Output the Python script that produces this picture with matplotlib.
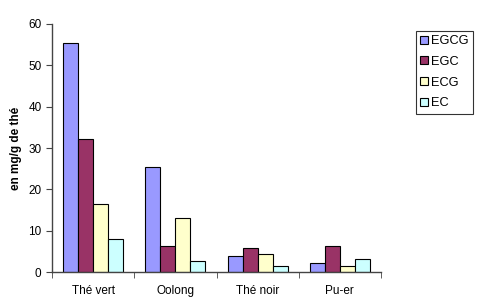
import numpy as np
import matplotlib
matplotlib.use('Agg')
import matplotlib.pyplot as plt

plt.rcParams['font.family'] = ['Liberation Sans', 'DejaVu Sans']

# données (mg/g de thé)
categories = ['Thé vert', 'Oolong', 'Thé noir', 'Pu-er']
series = ['EGCG', 'EGC', 'ECG', 'EC']
egcg = [55.5, 25.3, 3.8, 2.2]
egc = [32.2, 6.2, 5.7, 6.2]
ecg = [16.5, 13.1, 4.4, 1.5]
ec = [8.1, 2.6, 1.5, 3.2]
colors = ['#9999FF', '#993366', '#FFFFCC', '#CCFFFF']

values = [egcg, egc, ecg, ec]

fig = plt.figure(figsize=(5, 3.01), dpi=100)
ax = fig.add_axes([0.104, 0.0963, 0.658, 0.824])

x = np.arange(len(categories))
w = 0.183
for i, (name, vals, col) in enumerate(zip(series, values, colors)):
    ax.bar(x + (i - 1.5) * w, vals, width=w, color=col, edgecolor='black',
           linewidth=0.8, label=name)

ax.set_xlim(-0.5, len(categories) - 0.5)
ax.set_ylim(0, 60)
ax.set_yticks(range(0, 61, 10))
ax.set_xticks(x)
ax.set_xticklabels(categories, fontsize=8.5)
ax.set_xticks(np.arange(-0.5, len(categories)), minor=True)
ax.tick_params(axis='x', which='major', length=0, pad=9)
ax.tick_params(axis='x', which='minor', length=4, direction='out', color='#444444')
ax.tick_params(axis='y', length=4, direction='out', labelsize=8.5, color='#444444')
for s in ['top', 'right']:
    ax.spines[s].set_visible(False)
for s in ['left', 'bottom']:
    ax.spines[s].set_color('#444444')
    ax.spines[s].set_linewidth(1.0)

fig.text(0.032, 0.508, 'en mg/g de thé', rotation=90, fontsize=8.5,
         fontweight='bold', ha='center', va='center')

leg = fig.legend(loc='upper left', bbox_to_anchor=(0.831, 0.898), fontsize=9.2,
                 frameon=True, fancybox=False, handlelength=0.6, handleheight=0.6,
                 handletextpad=0.25, borderpad=0.35, labelspacing=0.68,
                 borderaxespad=0)
leg.get_frame().set_edgecolor('black')
leg.get_frame().set_linewidth(0.8)

fig.savefig('out.png', dpi=100)
